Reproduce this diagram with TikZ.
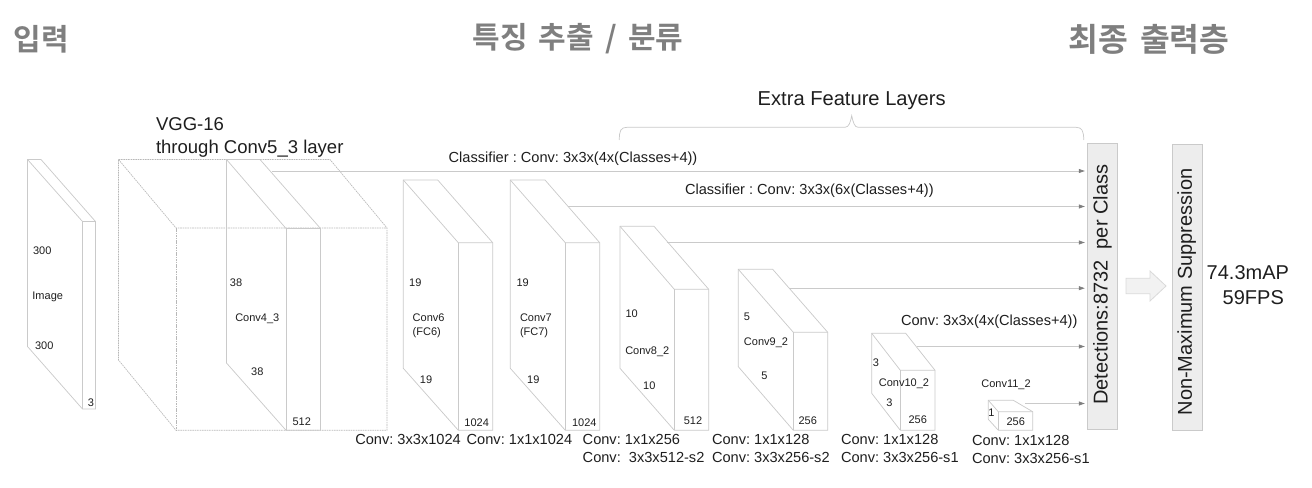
\documentclass[tikz,border=0pt]{standalone}
\usepackage{fontspec}
\setmainfont{Liberation Sans}
\newfontfamily\krfont{Noto Sans CJK KR Bold}[BoldFont={Noto Sans CJK KR Bold},WordSpace=1.65]
\usetikzlibrary{arrows.meta}
\definecolor{edgegray}{HTML}{CACACA}
\definecolor{dashgray}{HTML}{B8B8B8}
\definecolor{inkdark}{HTML}{1E1E1E}
\definecolor{headgray}{HTML}{7F7F7F}
\definecolor{boxfill}{HTML}{EDEDED}
\definecolor{blockfill}{HTML}{F2F2F2}
\definecolor{blockedge}{HTML}{D9D9D9}
\frenchspacing
\tikzset{
  base/.style={inner sep=0pt,outer sep=0pt,text=inkdark,text height=.72em,text depth=0pt},
  small/.style={base,font=\fontsize{8.25}{10}\selectfont},
  mid/.style={base,font=\fontsize{10.95}{13}\selectfont},
  large/.style={base,font=\fontsize{13.9}{17}\selectfont},
  huge/.style={base,font=\fontsize{15}{18}\selectfont},
  heading/.style={inner sep=0pt,text=headgray,font=\krfont\fontsize{22.5}{26}\selectfont},
  edge/.style={draw=edgegray,line width=.55pt},
  dashedge/.style={draw=dashgray,line width=.5pt,dash pattern=on 1.2pt off .6pt},
  feed/.style={draw=edgegray,line width=.55pt,-{Triangle[length=4.5pt,width=3pt,fill=headgray,color=headgray]},shorten >=1.6pt},
  bar/.style={draw=edgegray,fill=boxfill,line width=.55pt,inner sep=0pt,minimum width=214pt,minimum height=22.8pt,rotate=90},
}
% style, x-back-left, x-back-right, x-front-left, x-front-right, y-top, y-front-top, y-bottom, y-back-bottom
\newcommand{\cuboid}[9]{%
  \draw[#1] (#2,#6) -- (#3,#6) -- (#5,#7) -- (#5,#8) -- (#4,#8) -- (#2,#9) -- cycle;
  \draw[#1] (#2,#6) -- (#4,#7) -- (#5,#7);
  \draw[#1] (#4,#7) -- (#4,#8);
}
\begin{document}
\begin{tikzpicture}[x=.75pt,y=-.75pt]
\useasboundingbox (0,0) rectangle (1312,488);
% headings
\node[heading] (h1) at (41.5,39) {입력};
\node[heading] (h2) at (578,39) {특징 추출 / 분류};
\node[heading,font=\krfont\fontsize{24.3}{28}\selectfont] (h3) at (1149,39) {최종 출력층};
% cuboids
\cuboid{edge}{27.5}{41}{82.5}{95.5}{159.5}{221.5}{409}{346.5}
\cuboid{dashedge}{118.5}{330}{176}{387}{159.5}{228}{430.3}{360}
\cuboid{edge}{226.5}{260}{286}{320.5}{159.5}{228.5}{430.3}{363}
\cuboid{edge}{403.3}{437.7}{458.3}{492.7}{180}{242.7}{430.3}{368.3}
\cuboid{edge}{510.3}{545}{565.3}{599.7}{180}{242.7}{430.3}{368.3}
\cuboid{edge}{620}{654}{674.3}{708.7}{226.3}{289.3}{430.3}{368.3}
\cuboid{edge}{738.3}{772.7}{793.3}{827.7}{269.3}{332.3}{430.3}{366.7}
\cuboid{edge}{871.7}{905.7}{900.3}{935}{333.3}{370.3}{430.3}{393.3}
\cuboid{edge}{988.3}{1013.3}{998.3}{1032.7}{400.3}{411.7}{430.3}{419.3}
% output bars
\node[bar] (det) at (1102.5,286.3) {};
\node[bar,minimum width=214.5pt] (nms) at (1187.3,287.8) {};
\node[huge,rotate=90] (dettext) at (1102.7,284.7) {Detections:8732\ \ per Class};
\node[huge,rotate=90] (nmstext) at (1187,292) {Non-Maximum Suppression};
% feeds
\coordinate (s1) at (272,171);
\coordinate (s2) at (568,206.5);
\coordinate (s3) at (666.7,242.5);
\coordinate (s4) at (789.3,288.2);
\coordinate (s5) at (916.7,346.5);
\coordinate (s6) at (1025,403.5);
\foreach \s in {s1,s2,s3,s4,s5,s6} \draw[feed] (\s) -- (\s -| det.north);
% brace
\draw[edge] (619.3,140) .. controls (619.3,131) and (620.5,127.3) .. (627,127.3) -- (845,127.3) .. controls (849,127.3) and (850.5,122) .. (851.7,115.7) .. controls (853,122) and (854.5,127.3) .. (858,127.3) -- (1076,127.3) .. controls (1082,127.3) and (1083.7,131) .. (1083.7,140);
% block arrow
\draw[draw=blockedge,fill=blockfill,line width=.6pt] (1126,278.3) -- (1150,278.3) -- (1150,271) -- (1166,286) -- (1150,301) -- (1150,293.7) -- (1126,293.7) -- cycle;
% large captions
\node[large,anchor=west] (vgg1) at (156,126) {VGG-16};
\node[large,anchor=west] (vgg2) at (156,149) {through Conv5\_3 layer};
\node[base,font=\fontsize{15.1}{18}\selectfont] (extra) at (851.7,100.7) {Extra Feature Layers};
\node[huge,anchor=west] (map) at (1206.7,274.3) {74.3mAP};
\node[huge,anchor=west] (fps) at (1222.7,299.3) {59FPS};
% classifiers
\node[mid,anchor=west] (c1) at (448.7,157.3) {Classifier : Conv: 3x3x(4x(Classes+4))};
\node[mid,anchor=west] (c2) at (685,189.7) {Classifier : Conv: 3x3x(6x(Classes+4))};
\node[mid,anchor=west] (c3) at (901,320.7) {Conv: 3x3x(4x(Classes+4))};
% bottom
\node[mid,anchor=west] (b1) at (355.3,439.3) {Conv: 3x3x1024};
\node[mid,anchor=west] (b2) at (466.7,439.3) {Conv: 1x1x1024};
\node[mid,anchor=west] (b3) at (582.7,439.3) {Conv: 1x1x256};
\node[mid,anchor=west] (b4) at (582.7,457.3) {Conv:\ \ 3x3x512-s2};
\node[mid,anchor=west] (b5) at (712,439.3) {Conv: 1x1x128};
\node[mid,anchor=west] (b6) at (712,457.3) {Conv: 3x3x256-s2};
\node[mid,anchor=west] (b7) at (841,439.3) {Conv: 1x1x128};
\node[mid,anchor=west] (b8) at (841,457.3) {Conv: 3x3x256-s1};
\node[mid,anchor=west] (b9) at (972,440.7) {Conv: 1x1x128};
\node[mid,anchor=west] (b10) at (972,459) {Conv: 3x3x256-s1};
% small labels
\node[small] (t1) at (42.3,249.3) {300};
\node[small] (t2) at (47.7,295) {Image};
\node[small] (t3) at (44.3,344.7) {300};
\node[small] (t4) at (91,402) {3};
\node[small] (t5) at (236,281.7) {38};
\node[small] (t6) at (257.3,316.7) {Conv4\_3};
\node[small] (t7) at (257.3,370.7) {38};
\node[small] (t8) at (301.7,421) {512};
\node[small] (t9) at (415.3,281.7) {19};
\node[small,anchor=west] (t10) at (412.7,316.7) {Conv6};
\node[small,anchor=west] (t11) at (412.7,330.7) {(FC6)};
\node[small] (t12) at (426,378.7) {19};
\node[small] (t13) at (476.7,421.3) {1024};
\node[small] (t14) at (522.7,281.7) {19};
\node[small,anchor=west] (t15) at (520,316.7) {Conv7};
\node[small,anchor=west] (t16) at (520,330.7) {(FC7)};
\node[small] (t17) at (533.3,378.7) {19};
\node[small] (t18) at (584.3,421.3) {1024};
\node[small] (t19) at (631.7,312.7) {10};
\node[small] (t20) at (647.3,349.7) {Conv8\_2};
\node[small] (t21) at (649.3,384.3) {10};
\node[small] (t22) at (693,419.3) {512};
\node[small] (t23) at (747,316) {5};
\node[small] (t24) at (766,341) {Conv9\_2};
\node[small] (t25) at (764.3,375) {5};
\node[small] (t26) at (807.7,420) {256};
\node[small] (t27) at (876,361.3) {3};
\node[small] (t28) at (904,382) {Conv10\_2};
\node[small] (t29) at (889.3,401.7) {3};
\node[small] (t30) at (917.7,419) {256};
\node[small] (t31) at (1006,383) {Conv11\_2};
\node[small] (t32) at (991.3,412) {1};
\node[small] (t33) at (1015.7,420.3) {256};
\end{tikzpicture}
\end{document}
